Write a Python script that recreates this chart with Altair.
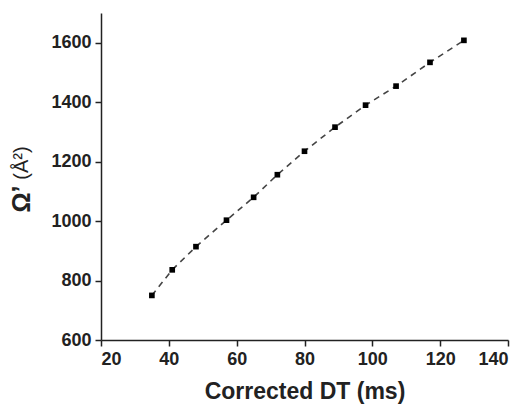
import altair as alt
import pandas as pd

dt = [35, 41, 48, 57, 65, 72, 80, 89, 98, 107, 117, 127]
omega = [750, 836, 914, 1003, 1080, 1156, 1235, 1316, 1390, 1454, 1534, 1608]
x_ticks = [20, 30, 40, 50, 60, 70, 80, 90, 100, 110, 120, 130, 140]
y_ticks = [600, 700, 800, 900, 1000, 1100, 1200, 1300, 1400, 1500, 1600]

df = pd.DataFrame({"dt": dt, "omega": omega})

FONT = "Liberation Sans"
TXT = "#222222"

xscale = alt.Scale(domain=[20, 140], nice=False, zero=False)
yscale = alt.Scale(domain=[600, 1700], nice=False, zero=False)

xaxis = alt.Axis(
    values=x_ticks, grid=False, title="Corrected DT (ms)", format="d",
    labelExpr="datum.value % 20 === 0 ? datum.label : ''",
    tickSize={"condition": {"test": "datum.value % 20 === 0", "value": 6}, "value": 3},
    labelFontSize=18, labelFont=FONT, labelFontWeight="bold", labelColor=TXT,
    titleFontSize=23, titleFont=FONT, titleFontWeight="bold", titleColor=TXT,
    titlePadding=12, labelPadding=4, domainColor="#222", tickColor="#222",
    domainWidth=1.5, tickWidth=1.5,
)
yaxis = alt.Axis(
    values=y_ticks, grid=False, title=None, format="d",
    labelExpr="datum.value % 200 === 0 ? datum.label : ''",
    tickSize={"condition": {"test": "datum.value % 200 === 0", "value": 6}, "value": 3},
    labelFontSize=18, labelFont=FONT, labelFontWeight="bold", labelColor=TXT,
    labelPadding=4, domainColor="#222", tickColor="#222",
    domainWidth=1.5, tickWidth=1.5,
)

base = alt.Chart(df)
line = base.mark_line(color="#444444", strokeDash=[6, 5], strokeWidth=1.6).encode(
    x=alt.X("dt:Q", scale=xscale, axis=xaxis),
    y=alt.Y("omega:Q", scale=yscale, axis=yaxis),
)
pts = base.mark_point(shape="square", filled=True, color="#000000", size=32, opacity=1).encode(
    x=alt.X("dt:Q", scale=xscale),
    y=alt.Y("omega:Q", scale=yscale),
)

title_df = pd.DataFrame({"t": ["Ω’"]})
t1 = alt.Chart(title_df).mark_text(
    angle=270, font=FONT, fontSize=25, fontWeight="bold", color=TXT,
    align="center", baseline="middle",
).encode(text="t:N", x=alt.value(-79), y=alt.value(186))
title_df2 = pd.DataFrame({"t": ["(Å²)"]})
t2 = alt.Chart(title_df2).mark_text(
    angle=270, font=FONT, fontSize=20, fontWeight="normal", color=TXT,
    align="center", baseline="middle",
).encode(text="t:N", x=alt.value(-79), y=alt.value(150))

chart = alt.layer(line, pts, t1, t2).properties(
    width=407, height=327,
    autosize=alt.AutoSizeParams(type="none"),
    padding={"left": 93, "top": 5, "right": 10, "bottom": 70},
).configure_view(stroke=None)

chart.save("out.html", embed_options={"renderer": "svg", "actions": False})
